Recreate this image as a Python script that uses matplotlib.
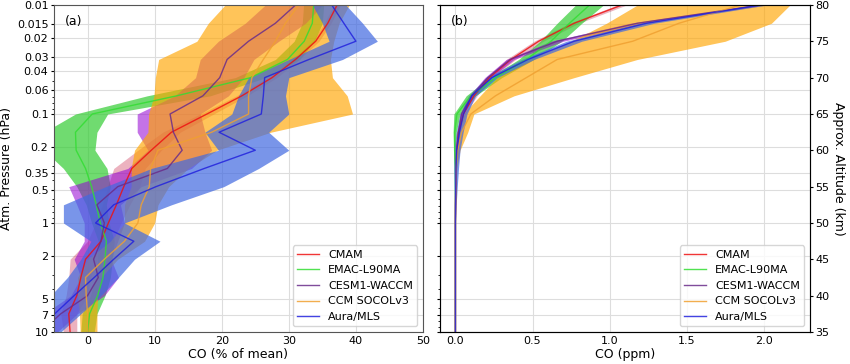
import numpy as np
import matplotlib
matplotlib.use('Agg')
import matplotlib.pyplot as plt
from matplotlib.ticker import NullFormatter

# Niveles de presion (hPa)
presion = [0.01, 0.0147, 0.0215, 0.0316, 0.0464, 0.0681, 0.1, 0.147, 0.215, 0.316,
           0.464, 0.681, 1.0, 1.47, 2.15, 3.16, 4.64, 6.81, 10.0]

modelos = ['CMAM', 'EMAC-L90MA', 'CESM1-WACCM', 'CCM SOCOLv3', 'Aura/MLS']

# (a) CO en % de la media
cmam_pct = [37.2, 35.8, 34.0, 31.0, 27.5, 23.0, 17.8, 12.5, 9.5, 6.6, 5.4, 4.3, 3.1, 2.0, -0.3, -1.0, -1.6, -2.8, -2.6]
cmam_pct_lo = [36.7, 35.3, 33.5, 30.4, 26.8, 22.2, 16.8, 11.2, 7.5, 3.9, 3.0, 2.2, 1.2, 0.0, -2.6, -2.8, -3.2, -4.0, -3.6]
cmam_pct_hi = [37.7, 36.3, 34.5, 31.6, 28.2, 23.8, 18.8, 13.8, 11.0, 8.6, 7.8, 6.3, 5.0, 3.8, 1.5, 0.5, 0.0, -1.6, -1.6]

emac_pct = [33.7, 33.5, 32.3, 29.8, 24.3, 13.3, 0.7, -1.8, -1.7, -0.3, 0.6, 1.3, 1.9, 2.8, 2.6, 2.3, 1.5, 0.3, 0.0]
emac_pct_lo = [32.2, 32.0, 30.8, 28.0, 22.0, 8.9, -1.8, -6.5, -6.5, -3.6, -1.6, -0.2, 0.6, 1.6, 1.5, 1.2, 0.4, -0.8, -1.0]
emac_pct_hi = [35.2, 35.0, 33.8, 31.6, 26.6, 18.3, 3.0, 1.4, 1.1, 2.9, 3.4, 2.8, 3.2, 4.0, 3.7, 3.4, 2.6, 1.4, 1.0]

waccm_pct = [31.0, 28.0, 24.0, 20.8, 19.7, 17.2, 12.3, 12.8, 14.1, 11.9, 4.5, 1.4, 2.5, 2.0, 0.9, 1.6, 0.0, -4.0, -7.0]
waccm_pct_lo = [26.5, 23.5, 19.5, 16.8, 16.1, 13.0, 7.4, 7.4, 9.0, 6.0, -2.8, -1.6, -0.5, -0.5, -2.0, -1.0, -2.5, -6.5, -9.5]
waccm_pct_hi = [35.0, 32.5, 28.5, 24.8, 23.3, 21.0, 16.8, 17.5, 18.5, 15.5, 8.0, 4.9, 5.5, 4.5, 3.5, 4.6, 2.5, -1.5, -4.5]

socol_pct = [31.5, 29.5, 28.0, 26.2, 24.5, 24.0, 24.0, 18.5, 10.5, 9.4, 9.2, 8.0, 7.5, 5.5, 2.5, -0.3, -0.2, 0.0, 0.0]
socol_pct_lo = [20.5, 18.0, 16.3, 10.6, 10.1, 9.9, 9.1, 9.0, 7.0, 6.5, 6.5, 5.5, 5.5, 3.4, 0.0, -1.5, -1.5, -1.2, -1.1]
socol_pct_hi = [39.0, 37.5, 36.7, 36.2, 36.5, 38.7, 39.5, 27.3, 19.3, 15.0, 12.1, 10.5, 10.0, 8.5, 4.5, 2.0, 1.5, 1.4, 1.4]

mls_pct = [36.4, 38.2, 40.0, 33.0, 26.4, 26.2, 25.9, 19.6, 25.0, 17.4, 10.2, 3.9, 1.2, 6.9, 3.9, 1.0, -2.0, -4.9, -8.0]
mls_pct_lo = [33.5, 35.0, 36.0, 30.0, 24.0, 22.5, 21.5, 17.5, 19.5, 9.5, 2.7, -3.6, -3.6, 0.5, -1.0, -3.0, -5.5, -8.0, -11.0]
mls_pct_hi = [38.5, 41.0, 43.2, 38.0, 30.0, 29.5, 30.0, 27.0, 30.0, 25.5, 20.3, 12.5, 5.5, 10.8, 7.0, 4.6, 2.0, -1.0, -4.0]

# (b) CO en ppm
cmam_ppm = [1.08, 0.77, 0.54, 0.36, 0.22, 0.12, 0.052, 0.02, 0.008, 0.004, 0.002, 0.001, 0.0, 0.0, 0.0, 0.0, 0.0, 0.0, 0.0]
cmam_ppm_lo = [1.05, 0.74, 0.51, 0.33, 0.20, 0.10, 0.040, 0.012, 0.004, 0.002, 0.001, 0.0, 0.0, 0.0, 0.0, 0.0, 0.0, 0.0, 0.0]
cmam_ppm_hi = [1.11, 0.80, 0.57, 0.39, 0.24, 0.14, 0.064, 0.028, 0.012, 0.006, 0.003, 0.002, 0.0, 0.0, 0.0, 0.0, 0.0, 0.0, 0.0]

emac_ppm = [0.87, 0.74, 0.62, 0.46, 0.26, 0.10, 0.01, -0.005, -0.005, 0.0, 0.0, 0.0, 0.0, 0.0, 0.0, 0.0, 0.0, 0.0, 0.0]
emac_ppm_lo = [0.78, 0.66, 0.55, 0.41, 0.22, 0.07, -0.01, -0.015, -0.012, -0.005, -0.003, 0.0, 0.0, 0.0, 0.0, 0.0, 0.0, 0.0, 0.0]
emac_ppm_hi = [0.96, 0.82, 0.69, 0.51, 0.30, 0.13, 0.03, 0.005, 0.002, 0.005, 0.003, 0.0, 0.0, 0.0, 0.0, 0.0, 0.0, 0.0, 0.0]

waccm_ppm = [1.98, 1.18, 0.66, 0.355, 0.21, 0.106, 0.04, 0.02, 0.008, 0.004, 0.002, 0.001, 0.0, 0.0, 0.0, 0.0, 0.0, 0.0, 0.0]
waccm_ppm_lo = [1.94, 1.13, 0.62, 0.33, 0.19, 0.09, 0.03, 0.012, 0.004, 0.002, 0.001, 0.0, 0.0, 0.0, 0.0, 0.0, 0.0, 0.0, 0.0]
waccm_ppm_hi = [2.02, 1.23, 0.70, 0.38, 0.23, 0.12, 0.05, 0.028, 0.012, 0.006, 0.003, 0.002, 0.0, 0.0, 0.0, 0.0, 0.0, 0.0, 0.0]

socol_ppm = [1.85, 1.45, 1.15, 0.66, 0.46, 0.26, 0.10, 0.04, 0.015, 0.005, 0.002, 0.0, 0.0, 0.0, 0.0, 0.0, 0.0, 0.0, 0.0]
socol_ppm_lo = [1.18, 0.98, 0.75, 0.48, 0.27, 0.16, 0.05, 0.01, 0.004, 0.001, 0.0, 0.0, 0.0, 0.0, 0.0, 0.0, 0.0, 0.0, 0.0]
socol_ppm_hi = [2.17, 2.05, 1.75, 1.18, 0.77, 0.38, 0.12, 0.08, 0.03, 0.01, 0.004, 0.0, 0.0, 0.0, 0.0, 0.0, 0.0, 0.0, 0.0]

mls_ppm = [1.98, 1.24, 0.77, 0.47, 0.236, 0.106, 0.052, 0.026, 0.009, 0.004, 0.002, 0.0, 0.0, 0.0, 0.0, 0.0, 0.0, 0.0, 0.0]
mls_ppm_lo = [1.94, 1.19, 0.72, 0.43, 0.20, 0.085, 0.03, 0.005, -0.01, -0.012, -0.01, -0.005, 0.0, 0.0, 0.0, 0.0, 0.0, 0.0, 0.0]
mls_ppm_hi = [2.02, 1.29, 0.82, 0.51, 0.27, 0.13, 0.075, 0.05, 0.03, 0.02, 0.012, 0.005, 0.0, 0.0, 0.0, 0.0, 0.0, 0.0, 0.0]

ticks_p = [0.01, 0.015, 0.02, 0.03, 0.04, 0.06, 0.1, 0.2, 0.35, 0.5, 1, 2, 5, 7, 10]
ticks_p_lbl = ['0.01', '0.015', '0.02', '0.03', '0.04', '0.06', '0.1', '0.2', '0.35', '0.5',
               '1', '2', '5', '7', '10']

colores_linea = ['#ee1111', '#33dd33', '#6a2c8a', '#f0a030', '#2222dd']
colores_banda = [('#d04060', 0.4), ('#33cc33', 0.7), ('#9400d3', 0.55), ('orange', 0.65), ('royalblue', 0.7)]

pct = [(cmam_pct, cmam_pct_lo, cmam_pct_hi), (emac_pct, emac_pct_lo, emac_pct_hi),
       (waccm_pct, waccm_pct_lo, waccm_pct_hi), (socol_pct, socol_pct_lo, socol_pct_hi),
       (mls_pct, mls_pct_lo, mls_pct_hi)]
ppm = [(cmam_ppm, cmam_ppm_lo, cmam_ppm_hi), (emac_ppm, emac_ppm_lo, emac_ppm_hi),
       (waccm_ppm, waccm_ppm_lo, waccm_ppm_hi), (socol_ppm, socol_ppm_lo, socol_ppm_hi),
       (mls_ppm, mls_ppm_lo, mls_ppm_hi)]

fig = plt.figure(figsize=(8.5, 3.64), dpi=100)
ax1 = fig.add_axes([54 / 850, 32 / 364, 369 / 850, 327 / 364])
ax2 = fig.add_axes([440 / 850, 32 / 364, 370 / 850, 327 / 364])


def dibujar(ax, datos):
    for (med, lo, hi), (c, a) in zip(datos, colores_banda):
        ax.fill_betweenx(presion, lo, hi, color=c, alpha=a, lw=0)
    for (med, lo, hi), c, nombre in zip(datos, colores_linea, modelos):
        ax.plot(med, presion, color=c, lw=1, alpha=0.85, label=nombre)
    ax.set_yscale('log')
    ax.set_ylim(10, 0.01)
    ax.set_yticks(ticks_p)
    ax.yaxis.set_minor_formatter(NullFormatter())
    ax.grid(True, color='#dddddd', lw=0.8)
    ax.set_axisbelow(True)
    ax.tick_params(axis='x', length=0, pad=3, labelsize=8)
    ax.tick_params(axis='y', which='major', length=2, pad=2, labelsize=8)
    ax.tick_params(axis='y', which='minor', length=1.5)
    ax.legend(loc='lower right', fontsize=8, framealpha=0.8)
    for s in ax.spines.values():
        s.set_color('#555555')


dibujar(ax1, pct)
ax1.set_yticklabels(ticks_p_lbl)
ax1.set_xlim(-5, 50)
ax1.set_xticks([0, 10, 20, 30, 40, 50])
ax1.set_xlabel('CO (% of mean)', fontsize=9, labelpad=1)
ax1.set_ylabel('Atm. Pressure (hPa)', fontsize=9, labelpad=3)
ax1.text(0.03, 0.97, '(a)', transform=ax1.transAxes, fontsize=9, va='top')

dibujar(ax2, ppm)
ax2.set_yticklabels([])
ax2.set_xlim(-0.1, 2.3)
ax2.set_xticks([0.0, 0.5, 1.0, 1.5, 2.0])
ax2.set_xlabel('CO (ppm)', fontsize=9, labelpad=1)
ax2.text(0.03, 0.97, '(b)', transform=ax2.transAxes, fontsize=9, va='top')

alt = ax2.twinx()
alt.set_ylim(35, 80)
alt.set_yticks([35, 40, 45, 50, 55, 60, 65, 70, 75, 80])
alt.tick_params(labelsize=8, length=2, pad=2)
alt.set_ylabel('Approx. Altitude (km)', fontsize=9, rotation=270, labelpad=11)

fig.savefig('out.png', dpi=100)
